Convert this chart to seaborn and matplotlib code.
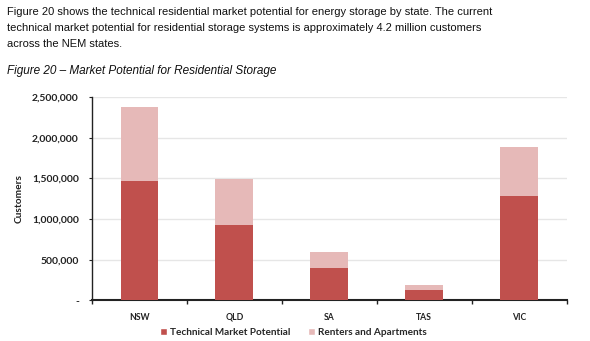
import matplotlib
matplotlib.use("Agg")
import matplotlib.pyplot as plt
import matplotlib.ticker as mticker
from matplotlib.patches import Patch
import seaborn as sns
import pandas as pd

# Market potential for residential storage by NEM state
states = ["NSW", "QLD", "SA", "TAS", "VIC"]
technical = [1470000, 925000, 400000, 125000, 1280000]
renters = [910000, 570000, 190000, 60000, 600000]
yticks = [0, 500000, 1000000, 1500000, 2000000, 2500000]

dark = "#C0504D"
light = "#E6B9B8"

df = pd.DataFrame({"State": states, "Technical": technical, "Renters": renters})
df["Total"] = df["Technical"] + df["Renters"]

sns.set_style("white")
plt.rcParams["font.family"] = ["Liberation Sans", "DejaVu Sans"]

fig = plt.figure(figsize=(5.9, 3.41), dpi=100)
ax = fig.add_axes([0.156, 0.1194, 0.8045, 0.5961])

# Stacked bars: full height in light colour, technical portion on top in dark
sns.barplot(data=df, x="State", y="Total", color=light, width=0.4,
            saturation=1, linewidth=0, ax=ax, zorder=2)
sns.barplot(data=df, x="State", y="Technical", color=dark, width=0.4,
            saturation=1, linewidth=0, ax=ax, zorder=3)

ax.set_xlim(-0.5, len(states) - 0.5)
ax.set_ylim(0, 2500000)
ax.set_yticks(yticks)
ax.yaxis.set_major_formatter(mticker.FuncFormatter(
    lambda v, p: "-" if v == 0 else f"{int(v):,}"))
ax.grid(axis="y", color="#E6E6E6", linewidth=1.0, zorder=0)
ax.set_axisbelow(True)

for side in ("top", "right"):
    ax.spines[side].set_visible(False)
ax.spines["left"].set_color("#222222")
ax.spines["left"].set_linewidth(1.0)
ax.spines["bottom"].set_color("#222222")
ax.spines["bottom"].set_linewidth(1.5)

xfont = dict(family=["Lato", "DejaVu Sans"], weight="bold", size=6.2)
yfont = dict(family=["Lato", "DejaVu Sans"], weight="bold", size=7.5)
ax.set_xticks(range(len(states)))
ax.set_xticklabels(states, **xfont, color="#222222")
ax.set_xticks([i - 0.5 for i in range(len(states) + 1)], minor=True)
ax.tick_params(axis="x", which="major", length=0, pad=9)
ax.tick_params(axis="x", which="minor", length=3, width=1.0, color="#222222",
               direction="out", bottom=True)
ax.tick_params(axis="y", length=2.5, width=0.8, color="#222222", left=True,
               pad=7)
for lab in ax.get_yticklabels():
    lab.set_fontproperties(yfont)
    lab.set_color("#222222")

ax.set_xlabel("")
ax.set_ylabel("Customers", family=["Lato", "DejaVu Sans"], weight="bold",
              size=7.3, color="#222222", labelpad=6)

handles = [Patch(facecolor=dark, label="Technical Market Potential"),
           Patch(facecolor=light, label="Renters and Apartments")]
fig.legend(handles=handles, loc="center", bbox_to_anchor=(0.497, 0.026),
           ncol=2, frameon=False, handlelength=0.7, handleheight=0.7,
           handletextpad=0.3, columnspacing=1.7,
           prop=dict(family=["Lato", "DejaVu Sans"], weight="bold", size=7.2))

para = ("Figure 20 shows the technical residential market potential for energy storage by state. The current\n"
        "technical market potential for residential storage systems is approximately 4.2 million customers\n"
        "across the NEM states.")
fig.text(0.012, 0.98, para, ha="left", va="top", fontsize=8.0,
         linespacing=1.78, color="#111111")
fig.text(0.012, 0.793, "Figure 20 \u2013 Market Potential for Residential Storage",
         ha="left", va="center", fontsize=8.5, style="italic", color="#111111")

fig.savefig("out.png", dpi=100)
